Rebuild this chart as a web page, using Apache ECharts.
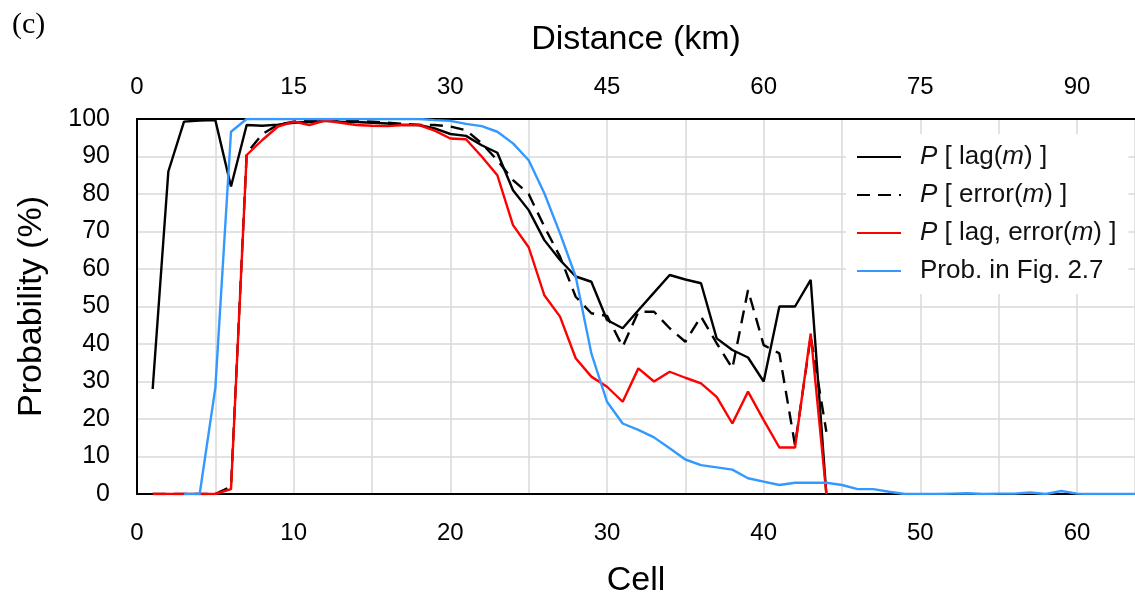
<!DOCTYPE html>
<html>
<head>
<meta charset="utf-8">
<script src="https://cdn.jsdelivr.net/npm/echarts@6/dist/echarts.min.js"></script>
<style>
html,body{margin:0;padding:0;background:#fff;}
#chart{width:1135px;height:597px;}
</style>
</head>
<body>
<div id="chart"></div>
<script>
// Cells 1..64
const cells = Array.from({length: 64}, (_, i) => i + 1);

const lagVals = [28, 86, 99.3, 99.6, 99.7, 82, 98.4, 98.2, 98.5, 99, 99.2, 99.5, 99.3, 99.2, 99, 98.8, 98.4, 98.4, 97.5, 96,
  95.5, 93, 91, 81, 75.7, 67.7, 62.4, 58, 56.6, 46.4, 44.2, 49, 53.7, 58.4, 57.2, 56.2, 41.5, 38.4, 36.4, 30,
  50, 50, 57.1, 0];

const errorVals = [0, 0, 0, 0, 0, 2, 90.8, 96, 98.5, 99.3, 99.5, 99.6, 99.5, 99.4, 99.3, 99, 98.7, 98.4, 98.4, 98,
  97, 93.5, 89, 83.7, 80, 71.3, 63.3, 52.6, 48.2, 47.5, 39.3, 48.6, 48.6, 44.2, 40.6, 47.3, 40.2, 33.5, 54.4, 39.7,
  37.5, 13, 42, 16.6];

const lagErrorVals = [0, 0, 0, 0, 0, 1.3, 90.4, 94.4, 98, 99.3, 98.4, 99.6, 99, 98.4, 98.2, 98.1, 98.4, 98.4, 96.9, 94.8,
  94.6, 90, 85, 71.7, 65.8, 53, 47.3, 36.2, 31.3, 28.6, 24.6, 33.5, 30, 32.6, 31, 29.5, 25.9, 18.8, 27.3, 19.7,
  12.4, 12.4, 42.8, 0];

const fig27Vals = [null, null, 0, 0, 28.3, 96.6, 100, 100, 100, 100, 100, 100, 100, 100, 100, 100, 100, 100, 99.7, 99.5,
  98.7, 98.1, 96.6, 93.5, 89, 80.2, 69.5, 58, 37.5, 24.6, 18.8, 17.1, 15.1, 12.2, 9.2, 7.7, 7.1, 6.5, 4.2, 3.3,
  2.4, 3.0, 3.0, 3.0, 2.4, 1.3, 1.3, 0.6, 0, 0, 0, 0.1, 0.2, 0, 0.1, 0.1, 0.4, 0, 0.8, 0.1, 0, 0, 0, 0];

const cellTicks = [0, 10, 20, 30, 40, 50, 60];
const kmTicks = [0, 15, 30, 45, 60, 75, 90];
const yTicks = [0, 10, 20, 30, 40, 50, 60, 70, 80, 90, 100];

const seriesNames = ['lag', 'error', 'lagerror', 'fig27'];

function pairs(vals) {
  const out = [];
  vals.forEach((v, i) => { if (v !== null && v !== undefined) out.push([cells[i], v]); });
  return out;
}

const font = 'Liberation Sans, Arial, Helvetica, sans-serif';
const chart = echarts.init(document.getElementById('chart'), null, {renderer: 'canvas'});

const legendLabels = {
  lag: '{i|P} [ lag({i|m}) ]',
  error: '{i|P} [ error({i|m}) ]',
  lagerror: '{i|P} [ lag, error({i|m}) ]',
  fig27: 'Prob. in Fig. 2.7'
};

const LW = 2.4;

const option = {
  animation: false,
  backgroundColor: '#fff',
  title: {
    text: '(c)', left: 7, top: 5,
    textStyle: {fontFamily: 'Liberation Serif, DejaVu Serif, serif', fontSize: 30, fontWeight: 'normal', color: '#000'}
  },
  grid: {left: 137, right: 0, top: 119, bottom: 103, containLabel: false, outerBoundsMode: 'none'},
  legend: {
    data: seriesNames,
    orient: 'vertical',
    left: 846, top: 134,
    padding: [8, 12, 8, 10],
    itemGap: 8,
    itemWidth: 44, itemHeight: 14,
    backgroundColor: '#fff',
    itemStyle: {opacity: 0},
    formatter: n => legendLabels[n],
    textStyle: {
      fontFamily: font, fontSize: 26, color: '#111', lineHeight: 30, padding: [0, 0, 0, 14],
      rich: {i: {fontStyle: 'italic', fontFamily: font, fontSize: 26, color: '#111'}}
    }
  },
  xAxis: [
    {
      type: 'value', position: 'bottom', min: 0, max: 63.7, interval: 5,
      name: 'Cell', nameLocation: 'middle', nameGap: 70,
      nameTextStyle: {fontFamily: font, fontSize: 34, color: '#000'},
      axisLine: {show: true, lineStyle: {color: '#000', width: 2}},
      axisTick: {show: false},
      axisLabel: {
        fontFamily: font, fontSize: 24, color: '#000', margin: 27, showMaxLabel: false,
        formatter: v => cellTicks.includes(v) ? String(v) : ''
      },
      splitLine: {show: true, lineStyle: {color: '#d9d9d9', width: 1.5}}
    },
    {
      type: 'value', position: 'top', min: 0, max: 95.55, interval: 15,
      name: 'Distance (km)', nameLocation: 'middle', nameGap: 62,
      nameTextStyle: {fontFamily: font, fontSize: 34, color: '#000'},
      axisLine: {show: true, onZero: false, lineStyle: {color: '#000', width: 2}},
      axisTick: {show: false},
      axisLabel: {
        fontFamily: font, fontSize: 24, color: '#000', margin: 20, showMaxLabel: false,
        formatter: v => kmTicks.includes(v) ? String(v) : ''
      },
      splitLine: {show: false}
    }
  ],
  yAxis: {
    type: 'value', min: 0, max: 100, interval: 10,
    name: 'Probability (%)', nameLocation: 'middle', nameGap: 88,
    nameTextStyle: {fontFamily: font, fontSize: 34, color: '#000'},
    axisLine: {show: true, lineStyle: {color: '#000', width: 2}},
    axisTick: {show: false},
    axisLabel: {fontFamily: font, fontSize: 25, color: '#000', margin: 27,
      formatter: v => yTicks.includes(v) ? String(v) : ''},
    splitLine: {show: true, lineStyle: {color: '#d9d9d9', width: 1.5}}
  },
  series: [
    {name: 'lag', type: 'line', xAxisIndex: 0, data: pairs(lagVals), symbol: 'none', z: 3,
      lineStyle: {color: '#000', width: LW}, itemStyle: {color: '#000'}},
    {name: 'error', type: 'line', xAxisIndex: 0, data: pairs(errorVals), symbol: 'none', z: 3,
      lineStyle: {color: '#000', width: LW, type: [13, 8]}, itemStyle: {color: '#000'}},
    {name: 'lagerror', type: 'line', xAxisIndex: 0, data: pairs(lagErrorVals), symbol: 'none', z: 4,
      lineStyle: {color: '#ff0000', width: LW}, itemStyle: {color: '#ff0000'}},
    {name: 'fig27', type: 'line', xAxisIndex: 0, data: pairs(fig27Vals), symbol: 'none', z: 5,
      lineStyle: {color: '#3399ff', width: LW}, itemStyle: {color: '#3399ff'}}
  ]
};
chart.setOption(option);
</script>
</body>
</html>
